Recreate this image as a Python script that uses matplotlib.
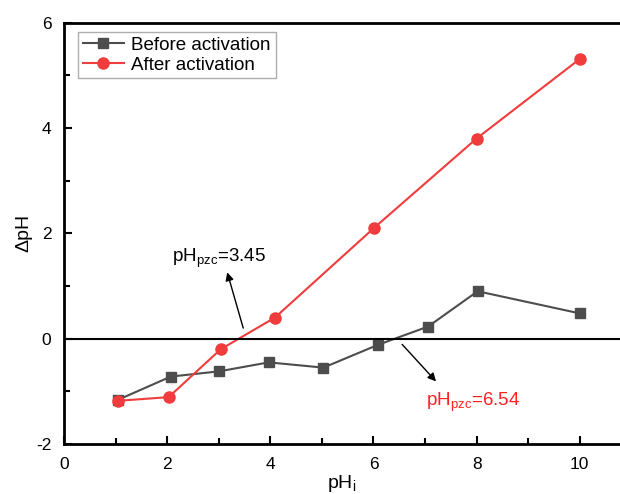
import matplotlib.pyplot as plt

plt.rcParams['font.family'] = ['Liberation Sans', 'DejaVu Sans']
plt.rcParams['axes.unicode_minus'] = False

# point of zero charge data
ph_before = [1.05, 2.07, 3.01, 3.97, 5.03, 6.08, 7.06, 8.02, 10.0]
dph_before = [-1.16, -0.72, -0.62, -0.45, -0.55, -0.12, 0.23, 0.90, 0.48]

ph_after = [1.05, 2.03, 3.04, 4.09, 6.02, 8.0, 10.0]
dph_after = [-1.18, -1.11, -0.20, 0.40, 2.11, 3.80, 5.31]

gray = '#4d4d4d'
red = '#f03c3c'

fig = plt.figure(figsize=(6.2, 4.94), dpi=100)
ax = fig.add_axes([0.1032, 0.1012, 0.8968, 0.853])

ax.plot(ph_before, dph_before, '-s', color=gray, lw=1.5, ms=7, label='Before activation')
ax.plot(ph_after, dph_after, '-o', color=red, lw=1.5, ms=8, label='After activation')
ax.axhline(0, color='black', lw=1.5)

ax.set_xlim(0, 10.78)
ax.set_ylim(-2, 6)
ax.set_xticks([0, 2, 4, 6, 8, 10])
ax.set_xticks([1, 3, 5, 7, 9], minor=True)
ax.set_yticks([-2, 0, 2, 4, 6])
ax.set_yticks([-1, 1, 3, 5], minor=True)
ax.tick_params(which='both', direction='in', width=1.5, labelsize=12.5)
ax.tick_params(which='major', length=6)
ax.tick_params(which='minor', length=4)
ax.tick_params(axis='y', which='major', pad=9)
ax.tick_params(axis='x', which='major', pad=9)
ax.spines['right'].set_visible(False)
for s in ['left', 'bottom', 'top']:
    ax.spines[s].set_linewidth(2)

ax.set_xlabel('pH$_\\mathregular{i}$', fontsize=14, labelpad=1)
ax.set_ylabel('ΔpH', fontsize=14, labelpad=3)

ax.annotate('', xy=(3.15, 1.31), xytext=(3.49, 0.15),
            arrowprops=dict(arrowstyle='-|>', color='black', lw=1, mutation_scale=12))
ax.text(2.09, 1.47, 'pH$_\\mathregular{pzc}$=3.45', fontsize=13.5, color='black')

ax.annotate('', xy=(7.25, -0.85), xytext=(6.52, -0.07),
            arrowprops=dict(arrowstyle='-|>', color='black', lw=1, mutation_scale=12))
ax.text(7.01, -1.28, 'pH$_\\mathregular{pzc}$=6.54', fontsize=13.5, color='#ff2020')

leg = ax.legend(loc='upper left', bbox_to_anchor=(0.025, 0.978), fontsize=13.5,
                fancybox=False, edgecolor='#999999', borderpad=0.25,
                handlelength=2.2, handletextpad=0.4, labelspacing=0.15, borderaxespad=0)
leg.get_frame().set_linewidth(1)

fig.savefig('out.png', dpi=100)
